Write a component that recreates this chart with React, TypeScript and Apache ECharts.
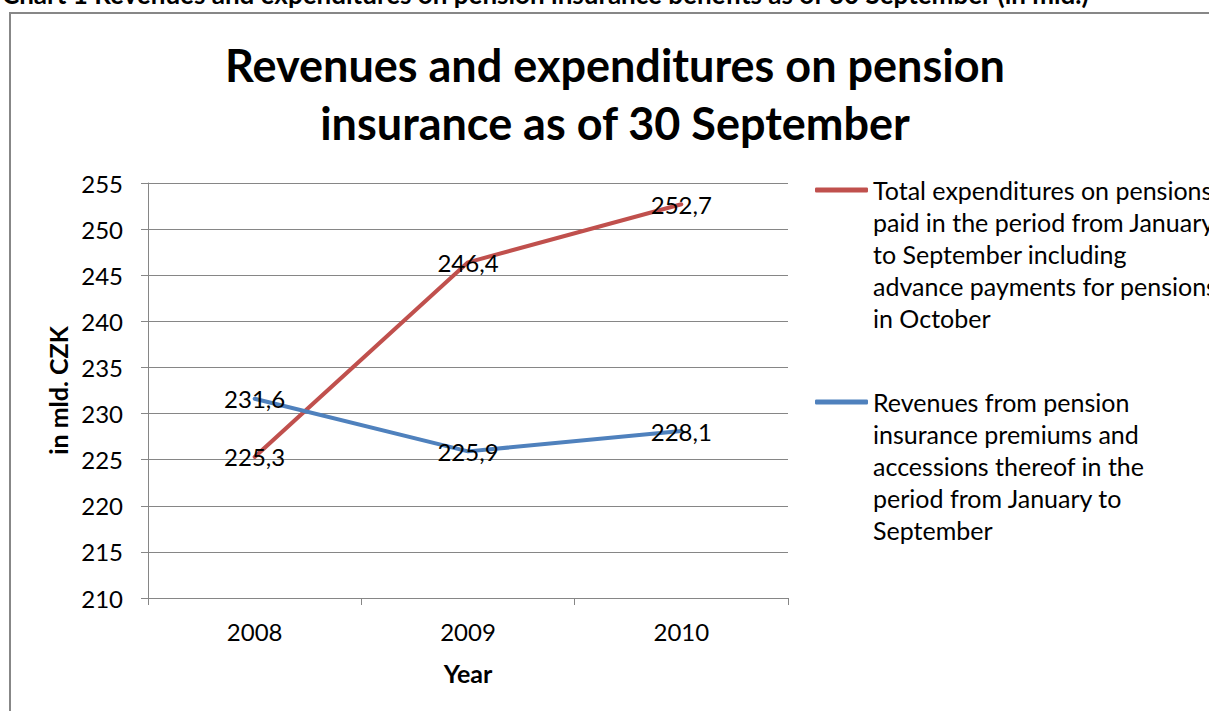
import React, { useEffect, useRef } from "react";
import * as echarts from "echarts";

const years = ["2008", "2009", "2010"];
const expenditures = [225.3, 246.4, 252.7];
const revenues = [231.6, 225.9, 228.1];
const expName =
  "Total expenditures on pensions\npaid in the period from January\nto September including\nadvance payments for pensions\nin October";
const revName =
  "Revenues from pension\ninsurance premiums and\naccessions thereof in the\nperiod from January to\nSeptember";
const titleText = "Revenues and expenditures on pension\ninsurance as of 30 September";
const captionText =
  "Chart 1 Revenues and expenditures on pension insurance benefits as of 30 September (in mld.)";

const FONT = "Lato";
const LEG_LH = 32;
const TICK_FS = 24;

export default function App() {
  const ref = useRef<HTMLDivElement>(null);
  useEffect(() => {
    const chart = echarts.init(ref.current!, null, { renderer: "svg" });
    const labelFmt = (p: any) => String(p.value).replace(".", ",");
    const legendBase = {
      orient: "vertical",
      left: 815,
      padding: 0,
      icon: "roundRect",
      itemWidth: 53,
      itemHeight: 5,
      itemGap: 0,
      formatter: (name: string) => "\n\n\n\n" + name,
      textStyle: {
        fontFamily: FONT,
        fontSize: 25,
        lineHeight: LEG_LH,
        color: "#000",
      },
    };
    chart.setOption({
      animation: false,
      backgroundColor: "#ffffff",
      textStyle: { fontFamily: FONT },
      title: {
        text: titleText,
        left: 615,
        top: 36,
        padding: 0,
        textAlign: "center",
        textStyle: {
          fontFamily: FONT,
          fontWeight: "bold",
          fontSize: 45,
          lineHeight: 58,
          color: "#000",
        },
      },
      graphic: [
        {
          type: "rect",
          shape: { x: 10, y: 13, width: 1400, height: 900 },
          style: { fill: "none", stroke: "#878787", lineWidth: 2 },
          silent: true,
        },
        {
          type: "text",
          x: 2,
          y: 7,
          style: {
            text: captionText,
            fontFamily: FONT,
            fontWeight: "bold",
            fontSize: 26,
            fill: "#000",
            verticalAlign: "bottom",
          },
        },
      ],
      legend: [
        { ...legendBase, data: [expName], top: 190 - 4 * LEG_LH - LEG_LH / 2 },
        { ...legendBase, data: [revName], top: 402 - 4 * LEG_LH - LEG_LH / 2 },
      ],
      grid: { left: 148, right: 421, top: 183, bottom: 113 },
      xAxis: {
        type: "category",
        data: years,
        boundaryGap: true,
        name: "Year",
        nameLocation: "middle",
        nameGap: 62,
        nameTextStyle: { fontFamily: FONT, fontWeight: "bold", fontSize: 25, color: "#000" },
        axisLine: { lineStyle: { color: "#868686", width: 1 } },
        axisTick: { show: true, length: 7, lineStyle: { color: "#868686" } },
        axisLabel: { fontFamily: FONT, fontSize: TICK_FS, color: "#000", margin: 21 },
        splitLine: { show: false },
      },
      yAxis: {
        type: "value",
        min: 210,
        max: 255,
        interval: 5,
        name: "in mld. CZK",
        nameLocation: "middle",
        nameGap: 74,
        nameTextStyle: { fontFamily: FONT, fontWeight: "bold", fontSize: 25, color: "#000" },
        axisLine: { show: true, lineStyle: { color: "#868686", width: 1 } },
        axisTick: { show: true, length: 7, lineStyle: { color: "#868686" } },
        axisLabel: { fontFamily: FONT, fontSize: TICK_FS, color: "#000", margin: 25 },
        splitLine: { show: true, lineStyle: { color: "#868686", width: 1 } },
      },
      series: [
        {
          name: expName,
          type: "line",
          data: expenditures,
          symbol: "circle",
          symbolSize: 1,
          showSymbol: true,
          color: "#C0504D",
          lineStyle: { width: 4, color: "#C0504D", cap: "round" },
          label: {
            show: true,
            position: "inside",
            formatter: labelFmt,
            fontFamily: FONT,
            fontSize: TICK_FS,
            color: "#000",
          },
        },
        {
          name: revName,
          type: "line",
          data: revenues,
          symbol: "circle",
          symbolSize: 1,
          showSymbol: true,
          color: "#4F81BD",
          lineStyle: { width: 4, color: "#4F81BD", cap: "round" },
          label: {
            show: true,
            position: "inside",
            formatter: labelFmt,
            fontFamily: FONT,
            fontSize: TICK_FS,
            color: "#000",
          },
        },
      ],
    });
    return () => chart.dispose();
  }, []);
  return (
    <div
      ref={ref}
      style={{ position: "fixed", left: 0, top: 0, width: 1209, height: 711 }}
    />
  );
}
